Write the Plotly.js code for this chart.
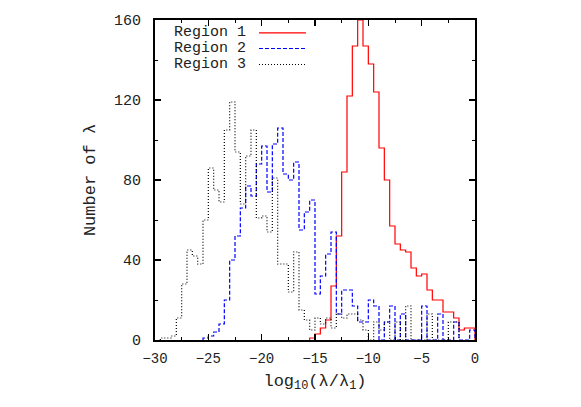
<!DOCTYPE html>
<html>
<head>
<meta charset="utf-8">
<script src="https://cdn.plot.ly/plotly-3.0.1.min.js"></script>
<style>
  html, body { margin: 0; padding: 0; background: #fff; }
  #chart { width: 581px; height: 407px; }
</style>
</head>
<body>
<div id="chart"></div>
<script>
// histogram bins are 0.5 wide; each series starts at its first non-empty bin
const binWidth = 0.5;

const region1Start = -15.5;
const region1Counts = [1, 3, 6, 10, 27, 52, 84, 122, 147, 160, 147, 138, 124, 96, 80, 57,
  48, 45, 44, 36, 32, 33, 25, 20, 20, 14, 14, 11, 5, 6, 6];

const region2Start = -25.5;
const region2Counts = [1, 2, 4, 8, 20, 40, 52, 66, 77, 72, 88, 97, 74, 98, 106, 83, 80, 89,
  55, 64, 70, 23, 32, 43, 54, 13, 25, 25, 17, 9, 9, 20, 17, 0, 9, 17, 0, 13, 0, 0, 0, 17,
  0, 0, 13, 0, 0, 9, 0, 0, 5];

const region3Start = -29.5;
const region3Counts = [1, 1, 2, 11, 28, 45, 42, 38, 60, 86, 75, 69, 105, 119, 94, 68, 92, 105,
  61, 62, 54, 81, 38, 38, 24, 44, 15, 10, 5, 11, 8, 11, 6, 13, 11, 13, 13, 10, 5, 0, 9, 5,
  9, 0, 9, 0, 17, 0, 0, 0, 13, 0, 0, 0, 9, 9];

const seriesNames = ['Region 1', 'Region 2', 'Region 3'];
const seriesColors = ['#ff0000', '#0000ff', '#000000'];
const seriesDash = ['solid', '4px,2px', '1px,2px'];

function stepTrace(start, counts, idx) {
  const x = [start];
  const y = [0];
  counts.forEach((c, i) => {
    x.push(start + i * binWidth);
    y.push(c);
  });
  const end = start + counts.length * binWidth;
  x.push(end, end);
  y.push(counts[counts.length - 1], 0);
  return {
    x: x,
    y: y,
    name: seriesNames[idx],
    type: 'scatter',
    mode: 'lines',
    line: { shape: 'hv', color: seriesColors[idx], width: 1.2, dash: seriesDash[idx] },
    hoverinfo: 'skip'
  };
}

const data = [
  stepTrace(region1Start, region1Counts, 0),
  stepTrace(region2Start, region2Counts, 1),
  stepTrace(region3Start, region3Counts, 2)
];

// gnuplot style key: text on the left, line sample on the right
const keyRows = [0.960, 0.911, 0.861];
const annotations = seriesNames.map((n, i) => ({
  xref: 'paper', yref: 'paper', x: 0.292, y: keyRows[i],
  xanchor: 'right', yanchor: 'middle', text: n, showarrow: false,
  font: { size: 15, color: '#222' }
}));
const shapes = seriesNames.map((n, i) => ({
  type: 'line', xref: 'paper', yref: 'paper',
  x0: 0.325, x1: 0.472, y0: keyRows[i], y1: keyRows[i],
  line: { color: seriesColors[i], width: 1.2, dash: seriesDash[i] }
}));

const axisCommon = {
  ticks: 'inside',
  ticklen: 6,
  tickwidth: 1.2,
  tickcolor: '#000',
  showline: true,
  linewidth: 2,
  linecolor: '#000',
  mirror: 'ticks',
  showgrid: false,
  zeroline: false
};

const layout = {
  width: 581,
  height: 407,
  margin: { l: 155, r: 106, t: 20, b: 67 },
  showlegend: false,
  paper_bgcolor: '#fff',
  plot_bgcolor: '#fff',
  font: { family: 'Liberation Mono, DejaVu Sans Mono, monospace', size: 14, color: '#222' },
  xaxis: Object.assign({}, axisCommon, {
    range: [-30, 0],
    tick0: 0,
    dtick: 5,
    ticklabelstandoff: 4,
    minor: { dtick: 2.5, ticks: 'inside', ticklen: 3, tickcolor: '#000', tickwidth: 1 },
    title: { text: 'log<sub>10</sub>(λ/λ<sub>1</sub>)', standoff: 8 }
  }),
  yaxis: Object.assign({}, axisCommon, {
    range: [0, 160],
    tick0: 0,
    dtick: 40,
    ticklabelstandoff: 9,
    tickfont: { size: 15 },
    minor: { dtick: 20, ticks: 'inside', ticklen: 3, tickcolor: '#000', tickwidth: 1 },
    title: { text: 'Number of λ', standoff: 14 }
  }),
  annotations: annotations,
  shapes: shapes
};

Plotly.newPlot('chart', data, layout, { displayModeBar: false, staticPlot: true });
</script>
</body>
</html>
